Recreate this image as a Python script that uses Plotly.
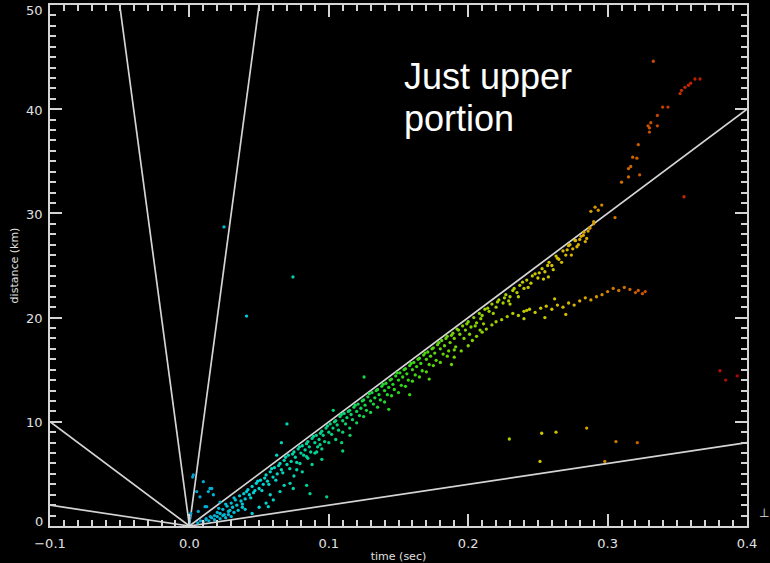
import plotly.graph_objects as go

# ---------------- data ----------------
# reference lines from origin: end points (time, distance)
line_end_t = [-0.05, 0.05, -0.1, -0.1, 0.4, 0.4]
line_end_d = [50, 50, 10, 2, 40, 8]

# main leader branch (time s, distance km)
main_t = [0.012, 0.015, 0.018, 0.02, 0.022, 0.024, 0.025, 0.027, 0.028, 0.03, 0.031, 0.033, 0.034, 0.036,
          0.037, 0.039, 0.04, 0.042, 0.043, 0.045, 0.046, 0.048, 0.05, 0.051, 0.053, 0.055, 0.056, 0.058,
          0.06, 0.061, 0.063, 0.065, 0.066, 0.068, 0.07, 0.071, 0.073, 0.075, 0.076, 0.078, 0.08, 0.081,
          0.083, 0.085, 0.086, 0.088, 0.09, 0.091, 0.093, 0.095, 0.096, 0.098, 0.1, 0.101, 0.103, 0.105,
          0.106, 0.108, 0.11, 0.111, 0.113, 0.115, 0.116, 0.118, 0.12, 0.121, 0.123, 0.125, 0.126, 0.128,
          0.13, 0.131, 0.133, 0.135, 0.136, 0.138, 0.14, 0.141, 0.143, 0.145, 0.146, 0.148, 0.15, 0.151,
          0.153, 0.155, 0.156, 0.158, 0.16, 0.161, 0.163, 0.165, 0.166, 0.168, 0.17, 0.171, 0.173, 0.175,
          0.176, 0.178, 0.18, 0.181, 0.183, 0.185, 0.187, 0.189, 0.19, 0.192, 0.194, 0.196, 0.198, 0.2,
          0.202, 0.204, 0.206, 0.208, 0.21, 0.212, 0.215, 0.217, 0.22, 0.222, 0.225, 0.227, 0.23, 0.232,
          0.235, 0.237, 0.24, 0.242, 0.245, 0.248, 0.25, 0.253, 0.255, 0.258, 0.26, 0.263, 0.265, 0.268,
          0.27, 0.272, 0.275, 0.277, 0.279, 0.281, 0.283, 0.285, 0.287, 0.29, 0.288, 0.291,
          0.273, 0.2766, 0.2826, 0.2874, 0.29, 0.2933, 0.2958, 0.3053]
main_d = [0.6, 0.9, 1.0, 1.3, 1.2, 1.6, 1.1, 1.9, 1.4, 2.2, 1.8, 2.5, 2.0, 2.9,
          2.4, 3.1, 2.6, 3.5, 3.0, 3.8, 3.2, 4.1, 3.6, 4.4, 4.0, 4.9, 4.3, 5.2,
          4.7, 5.6, 5.0, 6.0, 5.4, 6.3, 5.9, 6.8, 6.2, 7.1, 6.6, 7.4, 7.0, 7.7,
          7.3, 8.1, 7.6, 8.4, 8.0, 8.7, 8.3, 9.1, 8.7, 9.4, 9.0, 9.8, 9.4, 10.1,
          9.7, 10.5, 10.1, 10.8, 10.4, 11.1, 10.7, 11.4, 11.0, 11.7, 11.3, 12.1, 11.6, 12.4,
          12.0, 12.8, 12.3, 13.1, 12.6, 13.4, 13.0, 13.7, 13.3, 14.1, 13.6, 14.4, 14.0, 14.7,
          14.3, 15.1, 14.6, 15.4, 15.0, 15.7, 15.3, 16.1, 15.6, 16.4, 16.0, 16.7, 16.3, 17.1,
          16.6, 17.4, 17.0, 17.8, 17.3, 18.2, 17.6, 18.5, 18.0, 18.9, 18.4, 19.2, 18.8, 19.6,
          19.1, 20.0, 19.5, 20.4, 20.2, 20.8, 20.6, 21.3, 21.0, 21.7, 21.4, 22.2, 22.0, 22.6,
          22.4, 23.1, 22.8, 23.6, 23.3, 24.2, 23.8, 24.7, 24.4, 25.3, 25.0, 25.9, 25.6, 26.4,
          26.0, 26.9, 26.6, 27.4, 27.0, 27.8, 28.2, 27.6, 28.6, 29.0, 30.2, 30.6,
          27.0, 27.4, 27.9, 28.6, 29.2, 30.3, 30.8, 29.6]

# additional irregular points within the main band
extra_t = [0.021, 0.026, 0.029, 0.032, 0.038, 0.041, 0.044, 0.047, 0.049, 0.052, 0.054, 0.057, 0.059,
           0.062, 0.064, 0.067, 0.069, 0.072, 0.074, 0.077, 0.079, 0.082, 0.084, 0.087, 0.089, 0.092,
           0.094, 0.097, 0.099, 0.102, 0.104, 0.107, 0.109, 0.112, 0.114, 0.117, 0.119, 0.122, 0.124,
           0.127, 0.129, 0.132, 0.134, 0.137, 0.139, 0.142, 0.144, 0.147, 0.149, 0.152, 0.154, 0.157,
           0.159, 0.162, 0.164, 0.167, 0.169, 0.172, 0.174, 0.177, 0.179, 0.182, 0.184, 0.186, 0.188,
           0.191, 0.193, 0.197, 0.199, 0.201, 0.205, 0.209, 0.211, 0.214, 0.218, 0.221, 0.226, 0.229,
           0.233, 0.236, 0.239, 0.243, 0.246, 0.251, 0.254, 0.257, 0.261, 0.264, 0.267, 0.271, 0.274,
           0.278, 0.28, 0.284, 0.286,
           0.045, 0.05, 0.055, 0.058, 0.068, 0.075, 0.081, 0.088, 0.095, 0.11]
extra_d = [1.7, 2.1, 1.5, 2.7, 2.1, 3.3, 2.7, 3.4, 4.3, 3.4, 4.6, 4.0, 5.5,
           4.4, 5.8, 5.1, 6.6, 5.5, 6.9, 6.1, 7.6, 6.8, 7.9, 7.1, 8.6, 7.6,
           8.9, 8.1, 9.6, 8.8, 10.0, 9.2, 10.7, 9.8, 11.0, 10.2, 11.6, 10.6, 12.0,
           11.1, 12.7, 11.7, 13.0, 12.1, 13.6, 12.6, 14.0, 13.1, 14.7, 13.5, 15.0, 14.0,
           15.6, 14.5, 16.0, 14.9, 16.6, 15.5, 17.0, 15.9, 17.6, 16.5, 18.0, 16.8, 18.3,
           17.2, 18.8, 18.0, 19.4, 18.4, 19.2, 19.9, 19.4, 20.9, 20.4, 21.5, 21.9, 21.6,
           22.8, 22.0, 23.4, 22.9, 24.0, 24.3, 23.7, 25.0, 24.6, 25.7, 25.3, 26.5, 26.0,
           26.8, 27.5, 27.3, 28.3,
           1.2, 1.8, 2.2, 3.0, 3.9, 4.8, 5.2, 5.9, 6.4, 7.2]

# lower edge of the main band
band_t = [0.085, 0.09, 0.095, 0.1, 0.105, 0.11, 0.115, 0.12, 0.125, 0.13, 0.135, 0.14, 0.145,
          0.15, 0.155, 0.16, 0.165, 0.17, 0.175, 0.18, 0.185, 0.19, 0.143, 0.158, 0.172, 0.188]
band_d = [6.5, 7.0, 7.4, 8.0, 8.3, 9.0, 9.4, 9.9, 10.5, 10.9, 11.4, 11.9, 12.5,
          12.8, 13.4, 13.9, 14.3, 14.8, 15.4, 15.7, 16.3, 16.9, 11.2, 12.6, 14.1, 15.5]

# lower (slower) branch
lower_t = [0.19, 0.195, 0.2, 0.203, 0.206, 0.21, 0.213, 0.217, 0.22, 0.224, 0.228, 0.232, 0.236,
           0.24, 0.244, 0.248, 0.252, 0.256, 0.26, 0.264, 0.268, 0.272, 0.276, 0.28, 0.284, 0.288,
           0.292, 0.296, 0.3, 0.304, 0.308, 0.312, 0.316, 0.32, 0.322, 0.325, 0.327,
           0.23, 0.24, 0.255, 0.262, 0.27, 0.2085, 0.242]
lower_d = [16.2, 16.8, 17.3, 17.8, 18.2, 18.6, 18.9, 19.3, 19.6, 19.8, 20.1, 20.4, 20.2,
           20.6, 20.8, 20.5, 20.9, 21.1, 20.8, 21.2, 21.0, 21.4, 21.2, 21.6, 21.9, 21.7,
           22.0, 22.2, 22.5, 22.8, 22.6, 22.9, 22.7, 22.4, 22.6, 22.3, 22.5,
           21.3, 19.9, 20.0, 21.8, 20.3, 18.8, 20.7]

# upper tail beyond 0.3 s
tail_t = [0.31, 0.315, 0.323, 0.315, 0.3166, 0.318, 0.321, 0.322, 0.33, 0.33, 0.329, 0.331, 0.3357,
          0.3357, 0.3395, 0.3433, 0.352, 0.353, 0.3555, 0.358, 0.3596, 0.3627, 0.3663, 0.3328, 0.3548]
tail_d = [33.0, 33.5, 33.7, 34.3, 34.5, 35.4, 35.3, 36.6, 37.8, 38.2, 38.4, 38.7, 38.4,
          39.4, 40.2, 40.2, 41.5, 41.8, 42.1, 42.3, 42.5, 42.9, 42.9, 44.6, 31.6]

# scattered / early points
stray_t = [0.0, 0.0, 0.0, 0.001, 0.006, 0.008, 0.01, 0.012, 0.014, 0.016, 0.018, 0.02, 0.022, 0.024,
           0.026, 0.028, 0.03, 0.032, 0.035, 0.038, 0.04,
           0.0028, 0.01, 0.016, 0.0136, 0.0172, 0.0076, 0.0052, 0.0112, 0.0064, 0.022, 0.0023, 0.0148,
           0.0124,
           0.07, 0.0626, 0.0722, 0.0745, 0.0841, 0.0865, 0.0602, 0.0566, 0.0985, 0.065, 0.077, 0.0793,
           0.0841, 0.0913, 0.0937, 0.066, 0.1253, 0.1032, 0.1152, 0.1092, 0.2575,
           0.0248, 0.0743, 0.041,
           0.2295, 0.2527, 0.263, 0.285, 0.306, 0.3213, 0.2515, 0.298, 0.3806, 0.3847, 0.393]
stray_d = [0.3, 0.6, 0.9, 1.2, 0.3, 0.5, 0.4, 0.7, 0.5, 0.8, 0.6, 0.9, 0.7, 1.0,
           0.8, 1.1, 0.9, 1.3, 1.5, 1.8, 1.6,
           4.9, 4.25, 3.6, 3.3, 3.0, 2.8, 3.3, 1.85, 1.4, 2.3, 4.7, 3.6,
           1.85,
           9.8, 6.8, 4.1, 3.6, 3.9, 3.1, 2.5, 1.85, 2.8, 3.3, 5.4, 6.0,
           6.65, 7.1, 7.8, 8.0, 14.3, 11.1, 8.7, 8.0, 23.9,
           28.7, 23.9, 20.15,
           8.35, 8.9, 9.0, 9.4, 8.1, 8.0, 6.2, 6.2, 14.9, 14.0, 14.4]

x_ticks = [-0.1, 0.0, 0.1, 0.2, 0.3, 0.4]
y_ticks = [0, 10, 20, 30, 40, 50]

# ---------------- figure ----------------
AX = "#d4d4d4"
TXT = "#e0e0e0"
rainbow = [[0.0, "rgb(0,160,210)"], [0.125, "rgb(0,215,215)"], [0.25, "rgb(0,210,130)"],
           [0.375, "rgb(40,215,20)"], [0.5, "rgb(130,210,0)"], [0.625, "rgb(205,200,0)"],
           [0.7, "rgb(220,175,0)"], [0.75, "rgb(210,130,0)"], [0.825, "rgb(200,80,0)"],
           [0.9, "rgb(190,35,0)"], [1.0, "rgb(170,0,0)"]]

fig = go.Figure()
for et, ed in zip(line_end_t, line_end_d):
    fig.add_trace(go.Scatter(x=[0, et], y=[0, ed], mode="lines",
                             line=dict(color=AX, width=1.7), hoverinfo="skip", showlegend=False))

all_t = main_t + extra_t + band_t + lower_t + tail_t + stray_t
all_d = main_d + extra_d + band_d + lower_d + tail_d + stray_d
fig.add_trace(go.Scatter(x=all_t, y=all_d, mode="markers", showlegend=False,
                         marker=dict(size=3.3, color=all_t, colorscale=rainbow, cmin=0, cmax=0.4,
                                     line=dict(width=0))))

tickfont = dict(family="DejaVu Sans", size=13, color=TXT)
fig.update_xaxes(range=[-0.1, 0.4], tickvals=x_ticks, tickformat=".1f", showgrid=False, zeroline=False,
                 showline=True, linecolor=AX, linewidth=2, mirror="ticks", ticks="inside",
                 ticklen=12, tickwidth=1.5, tickcolor=AX, tickfont=tickfont, ticklabelstandoff=4,
                 automargin=False,
                 minor=dict(ticks="inside", dtick=0.01, ticklen=6, tickwidth=1.5, tickcolor=AX),
                 title=dict(text="time (sec)", font=dict(family="DejaVu Sans", size=11, color=TXT),
                            standoff=4))
fig.update_yaxes(range=[0, 50], tickvals=y_ticks, showticklabels=False, showgrid=False, zeroline=False,
                 showline=True, linecolor=AX, linewidth=2, mirror="ticks", ticks="inside",
                 ticklen=12, tickwidth=1.5, tickcolor=AX, automargin=False,
                 minor=dict(ticks="inside", dtick=1, ticklen=6, tickwidth=1.5, tickcolor=AX),
                 title=dict(text="distance (km)", font=dict(family="DejaVu Sans", size=11, color=TXT),
                            standoff=27))

# y tick labels (IDL keeps the end labels inside the frame)
for v in y_ticks:
    shift = -5 if v == 50 else (5 if v == 0 else -1)
    fig.add_annotation(text=str(v), xref="paper", yref="y", x=0, y=v, xanchor="right",
                       yanchor="middle", xshift=-5, yshift=shift, showarrow=False, font=tickfont)

fig.add_annotation(text="Just upper", xref="paper", yref="paper", x=0.505, y=0.8637,
                   xanchor="left", yanchor="middle", showarrow=False,
                   font=dict(family="Liberation Sans", size=36, color="white"))
fig.add_annotation(text="portion", xref="paper", yref="paper", x=0.505, y=0.7831,
                   xanchor="left", yanchor="middle", showarrow=False,
                   font=dict(family="Liberation Sans", size=36, color="white"))
fig.add_annotation(text="⊥", xref="paper", yref="paper", x=1.0245, y=0.025,
                   xanchor="center", yanchor="middle", showarrow=False,
                   font=dict(family="DejaVu Sans", size=12, color=TXT))

fig.update_layout(width=770, height=563, paper_bgcolor="black", plot_bgcolor="black",
                  margin=dict(l=50, r=23, t=5, b=37))
fig.write_html("out.html")
